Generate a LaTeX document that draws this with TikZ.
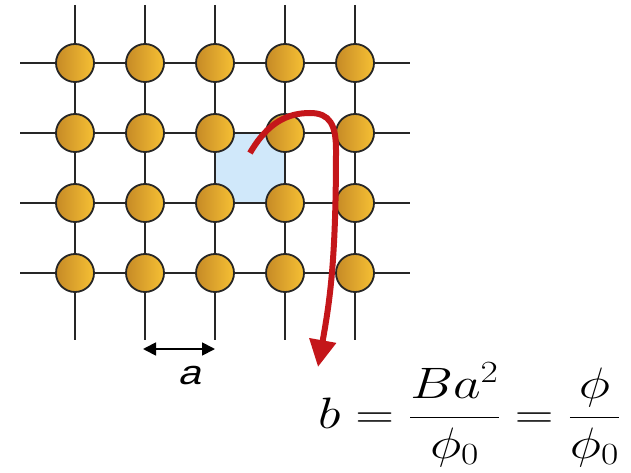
\RequirePackage{fix-cm}
\documentclass[tikz,border=0pt]{standalone}
\usepackage{fontspec}
\usepackage{amsmath}
\usetikzlibrary{arrows.meta, positioning}
\newfontfamily\labelfont{Liberation Sans}[FakeSlant=0.22]
\definecolor{sitedark}{RGB}{198, 138, 38}
\definecolor{sitelight}{RGB}{246, 192, 52}
\definecolor{cellcolor}{RGB}{208, 232, 250}
\definecolor{fluxcolor}{RGB}{196, 22, 26}

\begin{document}
\begin{tikzpicture}[
    x=1pt, y=-1pt,
    site/.style={circle, draw=black!85, line width=1.8pt, minimum size=38pt,
                 inner sep=0pt, left color=sitedark, right color=sitelight},
    bond/.style={line width=1.6pt, black!85},
    cell/.style={draw, line width=2.4pt, fill=cellcolor},
    flux/.style={-{Triangle[length=27pt, width=26pt]}, line width=6pt, fluxcolor},
    span/.style={{Triangle[length=13pt, width=13pt]}-{Triangle[length=13pt, width=13pt]}, line width=1.8pt}
]
\useasboundingbox (0,0) rectangle (631,473);
% Plaquette
\filldraw[cell] (215,133) rectangle (285,203);
% Bonds
\foreach \r in {1,...,4}
    \draw[bond] (20,{63+70*(\r-1)}) coordinate (h\r-w) -- (410,{63+70*(\r-1)}) coordinate (h\r-e);
\foreach \c in {1,...,5}
    \draw[bond] ({75+70*(\c-1)},5) coordinate (v\c-n) -- ({75+70*(\c-1)},340) coordinate (v\c-s);
% Sites
\foreach \r in {1,...,4}
    \foreach \c in {1,...,5}
        \node[site] (s\r-\c) at ({75+70*(\c-1)},{63+70*(\r-1)}) {};
% Flux arrow
\coordinate (f-start) at (250,153);
\coordinate (f-end) at (318,367);
\draw[flux] (f-start) .. controls (268,122) and (288,113) .. (310,113)
    .. controls (330,113) and (336,125) .. (336,150)
    .. controls (336,260) and (330,300) .. (f-end);
% Lattice constant
\coordinate (a-l) at (143,349);
\coordinate (a-r) at (215,349);
\draw[span] (a-l) -- (a-r)
    node[midway, below=13pt, xshift=10pt, font=\labelfont\fontsize{34}{40}\selectfont] (alabel) {\scalebox{1.2}[1]{a}};
% Flux per plaquette
\node[anchor=base west, inner sep=0pt, font=\fontsize{44}{52}\selectfont] (eq) at (318,428)
    {\scalebox{1.22}[1]{$\displaystyle b=\frac{Ba^2}{\phi_0}=\frac{\phi}{\phi_0}$}};
\end{tikzpicture}
\end{document}
